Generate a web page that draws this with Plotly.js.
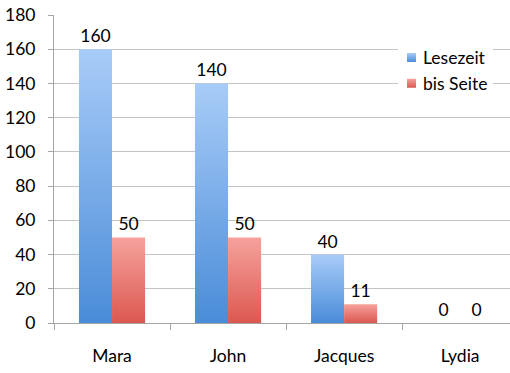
<!DOCTYPE html>
<html>
<head>
<meta charset="utf-8">
<script src="https://cdn.plot.ly/plotly-3.0.1.min.js"></script>
<style>html,body{margin:0;padding:0;background:#fff;}#chart{width:510px;height:373px;}</style>
</head>
<body>
<div id="chart"></div>
<script>
const categories = ["Mara", "John", "Jacques", "Lydia"];
const lesezeit = [160, 140, 40, 0];
const bisSeite = [50, 50, 11, 0];
const yTicks = [0, 20, 40, 60, 80, 100, 120, 140, 160, 180];

const FONT = "Lato, 'Open Sans', sans-serif";
const FS = 17.5;

const traces = [
  {
    type: "bar", name: "Lesezeit", x: categories, y: lesezeit,
    marker: { color: "#6fa6e8" },
    text: lesezeit.map(String), textposition: "outside",
    textfont: { family: FONT, size: FS, color: "#000" },
    cliponaxis: false, legendgroup: "a"
  },
  {
    type: "bar", name: "bis Seite", x: categories, y: bisSeite,
    marker: { color: "#e9716a" },
    text: bisSeite.map(String), textposition: "outside",
    textfont: { family: FONT, size: FS, color: "#000" },
    cliponaxis: false, legendgroup: "b"
  }
];

const layout = {
  width: 510, height: 373,
  margin: { l: 54, r: 0, t: 15, b: 50, pad: 0 },
  paper_bgcolor: "#fff", plot_bgcolor: "#fff",
  font: { family: FONT, size: FS, color: "#000" },
  barmode: "group", bargap: 0.43, bargroupgap: 0,
  showlegend: true,
  legend: {
    x: 0.7215, y: 0.92, xanchor: "left", yanchor: "top",
    bgcolor: "#fff", borderwidth: 0,
    font: { family: FONT, size: FS, color: "#000" },
    traceorder: "grouped", tracegroupgap: 0
  },
  xaxis: {
    type: "category", range: [-0.5, 3.43],
    showline: true, linecolor: "#a6a6a6", linewidth: 1,
    ticks: "outside", tickson: "boundaries", ticklen: 6, tickcolor: "#a6a6a6",
    showgrid: false, zeroline: false,
    ticklabelstandoff: 17,
    tickfont: { family: FONT, size: FS, color: "#000" }
  },
  yaxis: {
    range: [0, 180], tickvals: yTicks, ticktext: yTicks.map(String),
    showline: true, linecolor: "#a6a6a6", linewidth: 1,
    ticks: "outside", ticklen: 5, tickcolor: "#a6a6a6",
    showgrid: true, gridcolor: "#c4c4c4", gridwidth: 1,
    zeroline: false, ticklabelstandoff: 9,
    tickfont: { family: FONT, size: FS, color: "#000" }
  }
};

Plotly.newPlot("chart", traces, layout, { displayModeBar: false, staticPlot: true }).then(function (gd) {
  const svg = gd.querySelector(".main-svg");
  const NS = "http://www.w3.org/2000/svg";
  const defs = document.createElementNS(NS, "defs");
  function grad(id, top, bottom) {
    const g = document.createElementNS(NS, "linearGradient");
    g.setAttribute("id", id);
    g.setAttribute("x1", "0"); g.setAttribute("y1", "0");
    g.setAttribute("x2", "0"); g.setAttribute("y2", "1");
    const s1 = document.createElementNS(NS, "stop");
    s1.setAttribute("offset", "0"); s1.setAttribute("stop-color", top);
    const s2 = document.createElementNS(NS, "stop");
    s2.setAttribute("offset", "1"); s2.setAttribute("stop-color", bottom);
    g.appendChild(s1); g.appendChild(s2);
    defs.appendChild(g);
  }
  grad("gBlue", "#a8ccf8", "#4a8cd8");
  grad("gRed", "#f6a29c", "#db5850");
  svg.insertBefore(defs, svg.firstChild);
  const ids = ["gBlue", "gRed"];
  gd.querySelectorAll(".barlayer .trace").forEach(function (t, i) {
    t.querySelectorAll(".point path").forEach(function (p) {
      p.style.fill = "url(#" + ids[i] + ")";
    });
  });
  gd.querySelectorAll(".legend .traces").forEach(function (t, i) {
    t.querySelectorAll(".legendpoints path").forEach(function (p) {
      p.setAttribute("d", "M13,4.5H4V-4.5H13Z");
      p.style.fill = "url(#" + ids[i] + ")";
      p.style.stroke = "none";
    });
  });
  const bg = gd.querySelector(".legend .bg");
  if (bg) {
    const w = parseFloat(bg.getAttribute("width"));
    const x = parseFloat(bg.getAttribute("x") || 0);
    bg.setAttribute("x", x + 15);
    bg.setAttribute("width", w - 15);
  }
});
</script>
</body>
</html>
